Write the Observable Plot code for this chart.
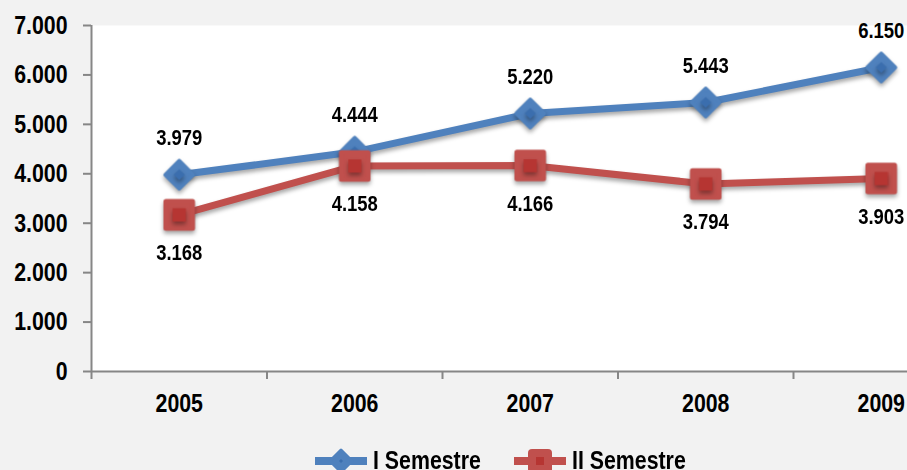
<!DOCTYPE html>
<html>
<head>
<meta charset="utf-8">
<script src="https://cdn.jsdelivr.net/npm/d3@7"></script>
<script src="https://cdn.jsdelivr.net/npm/@observablehq/plot@0.6"></script>
<style>
  html, body { margin: 0; padding: 0; background: #f2f2f2; }
  #wrap { position: relative; width: 907px; height: 470px; overflow: hidden; background: #f2f2f2;
          font-family: "Liberation Sans", Arial, sans-serif; font-weight: bold; }
  #legend { position: absolute; left: 315px; top: 445px; font-size: 26px; color: #000; white-space: nowrap; }
  #legend .item { position: absolute; top: 0; display: flex; align-items: center; }
  #legend svg { display: block; margin-right: 6px; }
  #legend span { display: inline-block; transform: scaleX(0.82); transform-origin: left center; }
</style>
</head>
<body>
<div id="wrap">
  <div id="chart"></div>
  <div id="legend"></div>
</div>
<script>
const years = [2005, 2006, 2007, 2008, 2009];
const semestre1 = [3979, 4444, 5220, 5443, 6150];
const semestre2 = [3168, 4158, 4166, 3794, 3903];
const seriesNames = ["I Semestre", "II Semestre"];
const seriesColors = ["#4f81bd", "#c0504d"];
const innerColors = ["#3b6eae", "#b63532"];
const yTicks = [0, 1000, 2000, 3000, 4000, 5000, 6000, 7000];

const fmt = d3.formatLocale({decimal: ",", thousands: ".", grouping: [3], currency: ["€", ""]}).format(",d");

const data1 = years.map((year, i) => ({year, value: semestre1[i], series: seriesNames[0]}));
const data2 = years.map((year, i) => ({year, value: semestre2[i], series: seriesNames[1]}));

const boundaries = years.map(y => y - 0.5).concat([years[years.length - 1] + 0.5]);
const font = '"Liberation Sans", Arial, sans-serif';

const chart = Plot.plot({
  width: 907,
  height: 445,
  marginLeft: 91,
  marginRight: 0,
  marginTop: 25,
  marginBottom: 74,
  style: {background: "#f2f2f2", fontFamily: font, fontWeight: "bold", color: "#000", overflow: "visible"},
  x: {type: "linear", domain: [boundaries[0], boundaries[boundaries.length - 1]], range: [91, 968.5], label: null},
  y: {domain: [0, 7000], range: [371, 25], label: null},
  marks: [
    Plot.frame({fill: "white", stroke: null}),
    Plot.ruleY([0], {stroke: "#868686", strokeWidth: 2}),
    Plot.ruleX([boundaries[0]], {stroke: "#868686", strokeWidth: 2}),
    Plot.axisY({ticks: yTicks, label: null, tickSize: 8, tickPadding: 16, tickFormat: fmt, stroke: "#868686", strokeWidth: 2, strokeOpacity: 1, fontSize: 26, fontWeight: "bold", fill: "#000"}),
    Plot.axisX({ticks: boundaries, label: null, tickSize: 8, tickFormat: () => "", stroke: "#868686", strokeWidth: 2, strokeOpacity: 1}),
    Plot.axisX({ticks: years, label: null, tickSize: 0, tickPadding: 22, tickFormat: d => String(d), fontSize: 26, fontWeight: "bold", fill: "#000"}),
    // I Semestre
    Plot.line(data1, {x: "year", y: "value", stroke: seriesColors[0], strokeWidth: 7}),
    Plot.dot(data1, {x: "year", y: "value", symbol: "diamond2", r: 12.5, fill: seriesColors[0], stroke: seriesColors[0], strokeWidth: 4, strokeLinejoin: "round"}),
    Plot.dot(data1, {x: "year", y: "value", symbol: "diamond2", r: 5, fill: innerColors[0]}),
    // II Semestre
    Plot.line(data2, {x: "year", y: "value", stroke: seriesColors[1], strokeWidth: 7}),
    Plot.dot(data2, {x: "year", y: "value", symbol: "square", r: 15, fill: seriesColors[1], stroke: seriesColors[1], strokeWidth: 5, strokeLinejoin: "round"}),
    Plot.dot(data2, {x: "year", y: "value", symbol: "square", r: 7.5, fill: innerColors[1]}),
    // labels
    Plot.text(data1, {x: "year", y: "value", text: d => fmt(d.value), dy: -37, fontSize: 22.5, fontWeight: "bold", fill: "#000"}),
    Plot.text(data2, {x: "year", y: "value", text: d => fmt(d.value), dy: 38, fontSize: 22.5, fontWeight: "bold", fill: "#000"})
  ]
});
document.getElementById("chart").appendChild(chart);

d3.select(chart).selectAll('g[aria-label="line"], g[aria-label="dot"]')
  .style("filter", "drop-shadow(0px 3px 2px rgba(0,0,0,0.35))");

// condense text like Arial Narrow
chart.querySelectorAll("text").forEach(t => {
  const len = t.getComputedTextLength();
  if (len > 0) {
    t.setAttribute("textLength", (len * 0.82).toFixed(2));
    t.setAttribute("lengthAdjust", "spacingAndGlyphs");
  }
});

// legend
const legend = d3.select("#legend");
const itemLeft = [0, 199];
seriesNames.forEach((name, i) => {
  const item = legend.append("div").attr("class", "item").style("left", itemLeft[i] + "px");
  const s = item.append("svg").attr("width", 52).attr("height", 30);
  s.append("line").attr("x1", 0).attr("x2", 52).attr("y1", 15).attr("y2", 15)
    .attr("stroke", seriesColors[i]).attr("stroke-width", 8);
  if (i === 0) {
    s.append("path").attr("d", "M26,4 L37,15 L26,26 L15,15 Z").attr("fill", seriesColors[i])
      .attr("stroke", seriesColors[i]).attr("stroke-width", 3).attr("stroke-linejoin", "round");
    s.append("path").attr("d", "M26,13 L28,15 L26,17 L24,15 Z").attr("fill", innerColors[i]);
  } else {
    s.append("rect").attr("x", 14).attr("y", 3).attr("width", 24).attr("height", 24).attr("rx", 4)
      .attr("fill", seriesColors[i]);
    s.append("rect").attr("x", 22).attr("y", 11).attr("width", 8).attr("height", 8).attr("fill", innerColors[i]);
  }
  item.append("span").text(name);
});
</script>
</body>
</html>
